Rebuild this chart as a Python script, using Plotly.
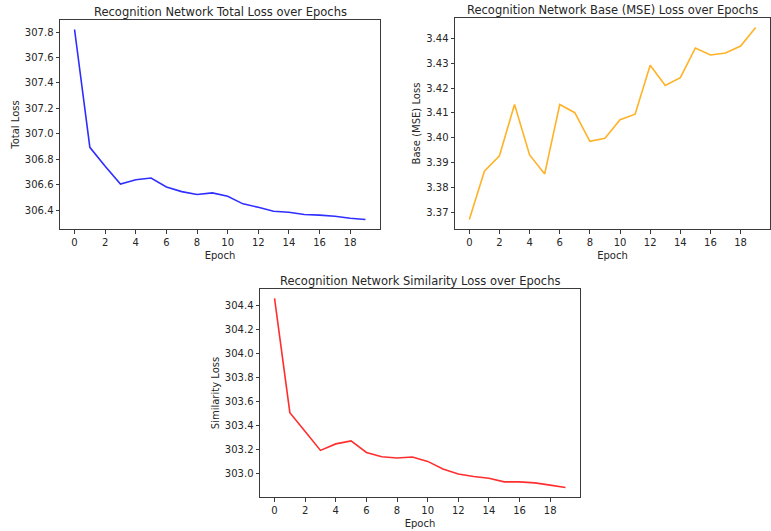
import plotly.graph_objects as go

epochs = list(range(20))

total_loss = [307.820, 306.894, 306.745, 306.606, 306.640, 306.653, 306.583, 306.546,
              306.523, 306.536, 306.510, 306.450, 306.423, 306.392, 306.384, 306.366,
              306.361, 306.353, 306.337, 306.327]

base_loss = [3.3672, 3.3866, 3.3928, 3.4134, 3.3931, 3.3855, 3.4134, 3.4101,
             3.3986, 3.3998, 3.4073, 3.4095, 3.4292, 3.4210, 3.4242, 3.4361,
             3.4333, 3.4341, 3.4369, 3.4443]

similarity_loss = [304.455, 303.508, 303.351, 303.195, 303.249, 303.274, 303.178, 303.142,
                   303.132, 303.140, 303.104, 303.041, 303.000, 302.978, 302.964, 302.934,
                   302.934, 302.926, 302.907, 302.887]

titles = ["Recognition Network Total Loss over Epochs",
          "Recognition Network Base (MSE) Loss over Epochs",
          "Recognition Network Similarity Loss over Epochs"]
ylabels = ["Total Loss", "Base (MSE) Loss", "Similarity Loss"]
colors = ["rgba(0,0,255,0.82)", "rgba(255,165,0,0.85)", "rgba(255,0,0,0.82)"]
ytick_formats = [".1f", ".2f", ".1f"]
ytick_steps = [0.2, 0.01, 0.2]

W, H = 771, 531
# axes boxes in pixels: (left, right, top, bottom)
boxes = [(60, 380, 20, 229), (455, 770, 18, 229), (260, 580, 289, 497)]

FONT = "DejaVu Sans"
TXT = "#262626"

fig = go.Figure()
series = [total_loss, base_loss, similarity_loss]

for i, (vals, box) in enumerate(zip(series, boxes)):
    l, r, t, b = box
    xa = "xaxis" if i == 0 else f"xaxis{i+1}"
    ya = "yaxis" if i == 0 else f"yaxis{i+1}"
    xref = "x" if i == 0 else f"x{i+1}"
    yref = "y" if i == 0 else f"y{i+1}"

    fig.add_trace(go.Scatter(x=epochs, y=vals, mode="lines",
                             line=dict(color=colors[i], width=1.6),
                             xaxis=xref, yaxis=yref, showlegend=False))

    lo, hi = min(vals), max(vals)
    pad = (hi - lo) * 0.05
    axis_common = dict(showline=True, mirror=True, linecolor="#3a3a3a", linewidth=1,
                       ticks="outside", ticklen=3.5, tickcolor="#3a3a3a", tickwidth=1,
                       showgrid=False, zeroline=False,
                       tickfont=dict(family=FONT, size=10, color=TXT))
    fig.update_layout({
        xa: dict(domain=[l / W, r / W], range=[-0.95, 19.95], tick0=0, dtick=2,
                 anchor=yref,
                 title=dict(text="Epoch", font=dict(family=FONT, size=10, color=TXT), standoff=5),
                 **axis_common),
        ya: dict(domain=[1 - b / H, 1 - t / H], range=[lo - pad, hi + pad],
                 dtick=ytick_steps[i], tickformat=ytick_formats[i], anchor=xref,
                 title=dict(text=ylabels[i], font=dict(family=FONT, size=10, color=TXT), standoff=3),
                 **axis_common),
    })
    fig.add_annotation(text=titles[i], xref="paper", yref="paper",
                       x=(l + r) / 2 / W, y=1 - (t + 1) / H,
                       xanchor="center", yanchor="bottom", showarrow=False,
                       font=dict(family=FONT, size=11.5, color=TXT))

fig.update_layout(width=W, height=H, margin=dict(l=0, r=0, t=0, b=0),
                  paper_bgcolor="white", plot_bgcolor="white")

fig.write_html("out.html")
